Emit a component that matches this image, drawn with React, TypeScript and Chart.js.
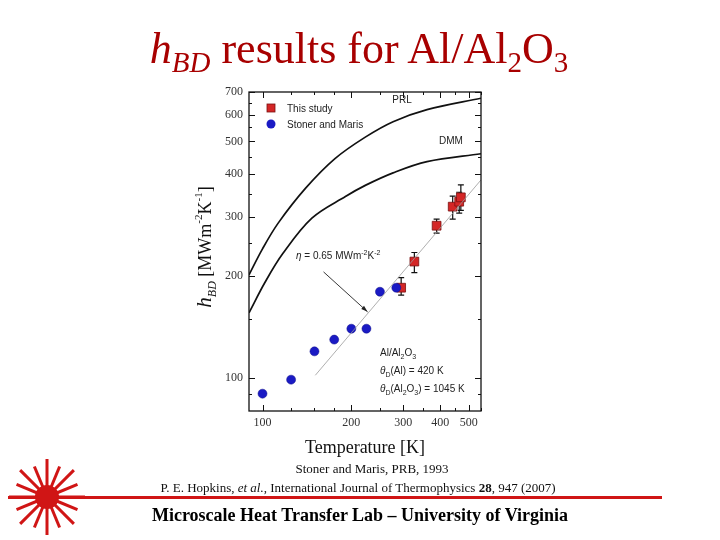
import React, { useEffect, useRef } from "react";
import { Chart, registerables } from "chart.js";
Chart.register(...registerables);

// ---- data ----
const stonerT = [100, 125, 150, 175, 200, 225, 250, 284];
const stonerH = [90, 99, 120, 130, 140, 140, 180, 185];

const studyT = [295, 327, 389, 441, 464, 470];
const studyH = [185, 221, 282, 321, 332, 342];
const studyLow = [176, 205, 268, 295, 307, 313];
const studyHigh = [198, 235, 295, 345, 354, 372];

const prlT = [90, 100, 113, 140, 176, 223, 277, 361, 550];
const prlH = [202, 241, 287, 364, 445, 515, 572, 621, 671];
const dmmT = [90, 102, 117, 147, 191, 223, 277, 361, 550];
const dmmH = [156, 192, 233, 297, 344, 371, 404, 436, 460];

const fitT = [151, 550];
const fitH = [102, 385];

const xTicks = [100, 200, 300, 400, 500];
const yTicks = [100, 200, 300, 400, 500, 600, 700];
const xMinor = [125, 150, 175, 250, 350, 450, 550];
const yMinor = [90, 150, 250, 350, 450, 550, 650];

const SERIF = "'Liberation Serif', 'Times New Roman', serif";
const SANS = "'Liberation Sans', Arial, sans-serif";

type Part = { t: string; size: number; dy?: number; italic?: boolean; bold?: boolean };

function fontOf(p: Part, fam: string) {
  return `${p.italic ? "italic " : ""}${p.bold ? "bold " : ""}${p.size}px ${fam}`;
}
function richWidth(ctx: CanvasRenderingContext2D, parts: Part[], fam: string) {
  let w = 0;
  for (const p of parts) {
    ctx.font = fontOf(p, fam);
    w += ctx.measureText(p.t).width;
  }
  return w;
}
function drawRich(ctx: CanvasRenderingContext2D, x: number, y: number, parts: Part[], fam: string, align: "left" | "center" = "left") {
  let cx = x;
  if (align === "center") cx = x - richWidth(ctx, parts, fam) / 2;
  ctx.textAlign = "left";
  ctx.textBaseline = "alphabetic";
  for (const p of parts) {
    ctx.font = fontOf(p, fam);
    ctx.fillText(p.t, cx, y + (p.dy || 0));
    cx += ctx.measureText(p.t).width;
  }
}

const decor = {
  id: "decor",
  beforeDatasetsDraw(chart: any) {
    const { ctx, scales } = chart;
    const xs = scales.x, ys = scales.y;
    ctx.save();
    ctx.strokeStyle = "#111";
    ctx.lineWidth = 1.2;
    studyT.forEach((t, i) => {
      const px = xs.getPixelForValue(t);
      const top = ys.getPixelForValue(studyHigh[i]);
      const bot = ys.getPixelForValue(studyLow[i]);
      ctx.beginPath();
      ctx.moveTo(px, top); ctx.lineTo(px, bot);
      ctx.moveTo(px - 3, top); ctx.lineTo(px + 3, top);
      ctx.moveTo(px - 3, bot); ctx.lineTo(px + 3, bot);
      ctx.stroke();
    });
    ctx.restore();
  },
  afterDraw(chart: any) {
    const { ctx, chartArea: a, scales } = chart;
    const xs = scales.x, ys = scales.y;
    ctx.save();
    // frame
    ctx.strokeStyle = "#111";
    ctx.lineWidth = 1.3;
    ctx.strokeRect(a.left, a.top, a.right - a.left, a.bottom - a.top);
    // inward ticks
    ctx.lineWidth = 1;
    const tx = (v: number, len: number) => {
      const p = Math.round(xs.getPixelForValue(v)) + 0.5;
      ctx.beginPath();
      ctx.moveTo(p, a.bottom); ctx.lineTo(p, a.bottom - len);
      ctx.moveTo(p, a.top); ctx.lineTo(p, a.top + len);
      ctx.stroke();
    };
    const ty = (v: number, len: number) => {
      const p = Math.round(ys.getPixelForValue(v)) + 0.5;
      ctx.beginPath();
      ctx.moveTo(a.left, p); ctx.lineTo(a.left + len, p);
      ctx.moveTo(a.right, p); ctx.lineTo(a.right - len, p);
      ctx.stroke();
    };
    xTicks.forEach((v) => tx(v, 6));
    xMinor.forEach((v) => tx(v, 3));
    yTicks.forEach((v) => ty(v, 6));
    yMinor.forEach((v) => ty(v, 3));

    // legend
    const lx = a.left + 22;
    ctx.fillStyle = "#d42626";
    ctx.strokeStyle = "#7a1010";
    ctx.lineWidth = 0.8;
    ctx.fillRect(lx - 4, 104, 8, 8);
    ctx.strokeRect(lx - 4, 104, 8, 8);
    ctx.fillStyle = "#1a1ac4";
    ctx.beginPath();
    ctx.arc(lx, 124, 4.5, 0, Math.PI * 2);
    ctx.fill();
    ctx.fillStyle = "#222";
    drawRich(ctx, lx + 16, 112, [{ t: "This study", size: 10 }], SANS);
    drawRich(ctx, lx + 16, 128, [{ t: "Stoner and Maris", size: 10 }], SANS);

    // curve labels
    drawRich(ctx, xs.getPixelForValue(297), ys.getPixelForValue(648), [{ t: "PRL", size: 10 }], SANS, "center");
    drawRich(ctx, xs.getPixelForValue(435), ys.getPixelForValue(492), [{ t: "DMM", size: 10 }], SANS, "center");

    // eta annotation + arrow
    drawRich(ctx, 296, 259, [
      { t: "η", size: 10, italic: true },
      { t: " = 0.65 MWm", size: 10 },
      { t: "-2", size: 7, dy: -4 },
      { t: "K", size: 10 },
      { t: "-2", size: 7, dy: -4 },
    ], SANS);
    const ax0 = xs.getPixelForValue(161), ay0 = ys.getPixelForValue(206);
    const ax1 = xs.getPixelForValue(227), ay1 = ys.getPixelForValue(157);
    ctx.strokeStyle = "#222";
    ctx.lineWidth = 0.9;
    ctx.beginPath();
    ctx.moveTo(ax0, ay0); ctx.lineTo(ax1, ay1); ctx.stroke();
    const ang = Math.atan2(ay1 - ay0, ax1 - ax0);
    ctx.fillStyle = "#222";
    ctx.beginPath();
    ctx.moveTo(ax1, ay1);
    ctx.lineTo(ax1 - 7 * Math.cos(ang - 0.3), ay1 - 7 * Math.sin(ang - 0.3));
    ctx.lineTo(ax1 - 7 * Math.cos(ang + 0.3), ay1 - 7 * Math.sin(ang + 0.3));
    ctx.closePath();
    ctx.fill();

    // material annotations
    ctx.fillStyle = "#222";
    drawRich(ctx, 380, 356, [
      { t: "Al/Al", size: 10 }, { t: "2", size: 7, dy: 3 }, { t: "O", size: 10 }, { t: "3", size: 7, dy: 3 },
    ], SANS);
    drawRich(ctx, 380, 374, [
      { t: "θ", size: 10, italic: true }, { t: "D", size: 7, dy: 3 }, { t: "(Al) = 420 K", size: 10 },
    ], SANS);
    drawRich(ctx, 380, 392, [
      { t: "θ", size: 10, italic: true }, { t: "D", size: 7, dy: 3 }, { t: "(Al", size: 10 },
      { t: "2", size: 7, dy: 3 }, { t: "O", size: 10 }, { t: "3", size: 7, dy: 3 }, { t: ") = 1045 K", size: 10 },
    ], SANS);

    // axis titles
    ctx.fillStyle = "#111";
    drawRich(ctx, (a.left + a.right) / 2, 453, [{ t: "Temperature [K]", size: 18 }], SERIF, "center");
    ctx.save();
    ctx.translate(211, 247);
    ctx.rotate(-Math.PI / 2);
    drawRich(ctx, 0, 0, [
      { t: "h", size: 21, italic: true },
      { t: "BD", size: 12, italic: true, dy: 5 },
      { t: " [MWm", size: 18 },
      { t: "-2", size: 11, dy: -9 },
      { t: "K", size: 18 },
      { t: "-1", size: 11, dy: -9 },
      { t: "]", size: 18 },
    ], SERIF, "center");
    ctx.restore();

    // footer rule and logo
    ctx.strokeStyle = "#d01515";
    ctx.lineWidth = 3;
    ctx.beginPath();
    ctx.moveTo(8, 497.5); ctx.lineTo(662, 497.5); ctx.stroke();
    const cx = 47, cy = 497;
    ctx.lineWidth = 3;
    for (let k = 0; k < 16; k++) {
      const th = (k * Math.PI) / 8;
      const r = k % 2 === 0 ? 38 : 33;
      ctx.beginPath();
      ctx.moveTo(cx, cy);
      ctx.lineTo(cx + r * Math.cos(th), cy + r * Math.sin(th));
      ctx.stroke();
    }
    ctx.fillStyle = "#d01515";
    ctx.beginPath();
    ctx.arc(cx, cy, 12, 0, Math.PI * 2);
    ctx.fill();
    ctx.restore();
  },
};

export default function App() {
  const ref = useRef<HTMLCanvasElement>(null);
  useEffect(() => {
    if (!ref.current) return;
    const pts = (xs: number[], ys: number[]) => xs.map((x, i) => ({ x, y: ys[i] }));
    const chart = new Chart(ref.current, {
      type: "line",
      data: {
        datasets: [
          { label: "PRL", data: pts(prlT, prlH), borderColor: "#111", borderWidth: 1.7, pointRadius: 0, tension: 0.35, fill: false },
          { label: "DMM", data: pts(dmmT, dmmH), borderColor: "#111", borderWidth: 1.7, pointRadius: 0, tension: 0.35, fill: false },
          { label: "fit", data: pts(fitT, fitH), borderColor: "#9a9a9a", borderWidth: 0.8, pointRadius: 0, fill: false },
          { label: "Stoner and Maris", data: pts(stonerT, stonerH), showLine: false, pointStyle: "circle", pointRadius: 4.5, backgroundColor: "#1a1ac4", borderColor: "#10108a", borderWidth: 0.5 },
          { label: "This study", data: pts(studyT, studyH), showLine: false, pointStyle: "rect", pointRadius: 6.2, backgroundColor: "#d42626", borderColor: "#7a1010", borderWidth: 0.8 },
        ],
      } as any,
      options: {
        responsive: false,
        animation: false,
        events: [],
        layout: { padding: { left: 199, right: 239, top: 92, bottom: 89 } },
        plugins: { legend: { display: false }, tooltip: { enabled: false }, title: { display: false } },
        scales: {
          x: {
            type: "logarithmic",
            min: 90,
            max: 550,
            grid: { display: false, drawTicks: false },
            border: { display: false },
            afterBuildTicks: (s: any) => { s.ticks = xTicks.map((v) => ({ value: v })); },
            afterFit: (s: any) => { s.height = 40; },
            ticks: { font: { family: SERIF, size: 12 }, color: "#333", padding: 5, maxRotation: 0, autoSkip: false, callback: (v: any) => String(v) },
          },
          y: {
            type: "logarithmic",
            min: 80,
            max: 700,
            grid: { display: false, drawTicks: false },
            border: { display: false },
            afterBuildTicks: (s: any) => { s.ticks = yTicks.map((v) => ({ value: v })); },
            afterFit: (s: any) => { s.width = 50; },
            ticks: { font: { family: SERIF, size: 12 }, color: "#333", padding: 6, autoSkip: false, callback: (v: any) => String(v) },
          },
        },
      } as any,
      plugins: [decor],
    });
    return () => chart.destroy();
  }, []);

  const box = (center: number, top: number, extra: React.CSSProperties, content: React.ReactNode) => (
    <div style={{ position: "absolute", left: center - 360, width: 720, top, textAlign: "center", whiteSpace: "nowrap", fontFamily: SERIF, ...extra }}>{content}</div>
  );

  return (
    <div style={{ position: "absolute", left: 0, top: 0, width: 720, height: 540, background: "#fff", overflow: "hidden" }}>
      <canvas ref={ref} width={720} height={540} style={{ position: "absolute", left: 0, top: 0 }} />
      {box(359, 27, { fontSize: 44, lineHeight: "44px", color: "#a80000" }, (
        <>
          <i>h</i>
          <span style={{ fontSize: 29, verticalAlign: -9, lineHeight: 0, fontStyle: "italic" }}>BD</span>
          {" results for Al/Al"}
          <span style={{ fontSize: 29, verticalAlign: -9, lineHeight: 0 }}>2</span>
          O
          <span style={{ fontSize: 29, verticalAlign: -9, lineHeight: 0 }}>3</span>
        </>
      ))}
      {box(372, 461, { fontSize: 13, lineHeight: "15px", color: "#111" }, "Stoner and Maris, PRB, 1993")}
      {box(358, 480, { fontSize: 13, lineHeight: "15px", color: "#111" }, (
        <>
          {"P. E. Hopkins, "}<i>et al.</i>{", International Journal of Thermophysics "}<b>28</b>{", 947 (2007)"}
        </>
      ))}
      {box(360, 505, { fontSize: 18, lineHeight: "20px", fontWeight: "bold", color: "#000" }, "Microscale Heat Transfer Lab – University of Virginia")}
    </div>
  );
}
